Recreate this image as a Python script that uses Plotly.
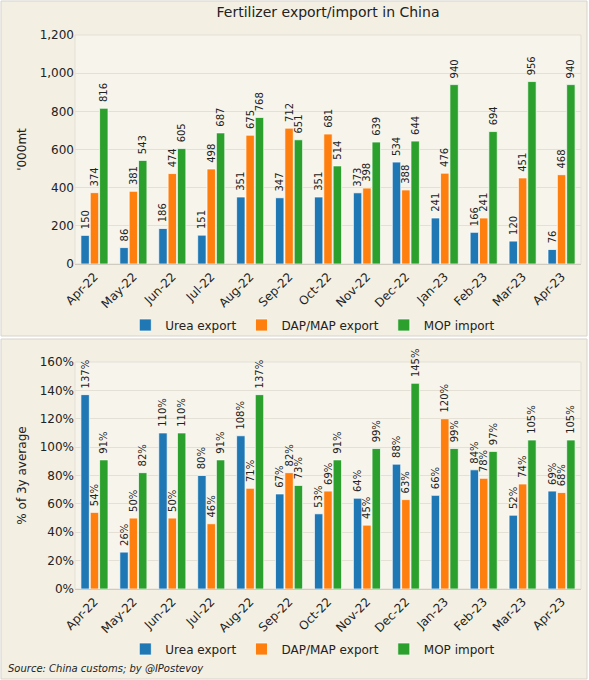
import plotly.graph_objects as go
from plotly.subplots import make_subplots

months = ["Apr-22", "May-22", "Jun-22", "Jul-22", "Aug-22", "Sep-22", "Oct-22",
          "Nov-22", "Dec-22", "Jan-23", "Feb-23", "Mar-23", "Apr-23"]

# '000 mt
urea_kt = [150, 86, 186, 151, 351, 347, 351, 373, 534, 241, 166, 120, 76]
dap_kt = [374, 381, 474, 498, 675, 712, 681, 398, 388, 476, 241, 451, 468]
mop_kt = [816, 543, 605, 687, 768, 651, 514, 639, 644, 940, 694, 956, 940]

# % of 3y average
urea_pct = [137, 26, 110, 80, 108, 67, 53, 64, 88, 66, 84, 52, 69]
dap_pct = [54, 50, 50, 46, 71, 82, 69, 45, 63, 120, 78, 74, 68]
mop_pct = [91, 82, 110, 91, 137, 73, 91, 99, 145, 99, 97, 105, 105]

names = ["Urea export", "DAP/MAP export", "MOP import"]
colors = ["#1f77b4", "#ff7f0e", "#2ca02c"]

panel_bg = "#f3efe3"
plot_bg = "#f7f4eb"
grid = "#e4e0d5"
font = "DejaVu Sans"
nbsp = "\u00a0"

fig = make_subplots(rows=2, cols=1, vertical_spacing=0.177)

for vals, name, c in zip([urea_kt, dap_kt, mop_kt], names, colors):
    fig.add_trace(go.Bar(
        x=months, y=vals, name=name, marker_color=c,
        marker_line=dict(color="rgba(255,255,255,0.7)", width=1),
        text=[f"{nbsp}{v:,}" for v in vals], textposition="outside", textangle=-90,
        textfont=dict(size=10, color="#222"), cliponaxis=False,
        constraintext="none", legend="legend",
    ), row=1, col=1)

for vals, name, c in zip([urea_pct, dap_pct, mop_pct], names, colors):
    fig.add_trace(go.Bar(
        x=months, y=vals, name=name, marker_color=c,
        marker_line=dict(color="rgba(255,255,255,0.7)", width=1),
        text=[f"{nbsp}{v}%" for v in vals], textposition="outside", textangle=-90,
        textfont=dict(size=10, color="#222"), cliponaxis=False,
        constraintext="none", legend="legend2",
    ), row=2, col=1)

# panel frames and plot areas
def px_to_paper_x(p):
    return (p - 75) / 506

def px_to_paper_y(p):
    return (589 - p) / 554

shapes = []
for top, bottom in [(1, 336), (339, 679)]:
    shapes.append(dict(type="rect", xref="paper", yref="paper", layer="below",
                       x0=px_to_paper_x(1), x1=px_to_paper_x(587),
                       y0=px_to_paper_y(bottom), y1=px_to_paper_y(top),
                       fillcolor=panel_bg, line=dict(color="#d6d3cc", width=1)))
for ax in ["x", "x2"]:
    yax = "y" if ax == "x" else "y2"
    shapes.append(dict(type="rect", xref=f"{ax} domain", yref=f"{yax} domain",
                       layer="below", x0=0, x1=1, y0=0, y1=1,
                       fillcolor=plot_bg, line=dict(color="#e2dfd7", width=1)))

fig.update_layout(
    width=589, height=680,
    margin=dict(l=75, r=8, t=35, b=91),
    paper_bgcolor="white", plot_bgcolor="rgba(0,0,0,0)",
    font=dict(family=font, size=12, color="#222"),
    barmode="group", bargap=0.28, bargroupgap=0.1,
    shapes=shapes,
    title=dict(text="Fertilizer export/import in China", x=0.5, xref="paper",
               y=1 - 12 / 680, yref="container", yanchor="middle",
               font=dict(size=14, color="#222")),
    legend=dict(orientation="h", x=0.47, xanchor="center",
                y=px_to_paper_y(325), yanchor="middle",
                bgcolor="rgba(0,0,0,0)", itemwidth=30, font=dict(size=12)),
    legend2=dict(orientation="h", x=0.47, xanchor="center",
                 y=px_to_paper_y(649), yanchor="middle",
                 bgcolor="rgba(0,0,0,0)", itemwidth=30, font=dict(size=12)),
    annotations=[dict(text="<i>Source: China customs; by @IPostevoy</i>",
                      xref="paper", yref="paper", x=px_to_paper_x(6),
                      y=px_to_paper_y(668), xanchor="left", yanchor="middle",
                      showarrow=False, font=dict(size=10, color="#222"))],
)

fig.update_yaxes(domain=[px_to_paper_y(264), 1], range=[0, 1200], dtick=200,
                 tickformat=",", gridcolor=grid, zeroline=False, ticks="",
                 title=dict(text="'000mt", standoff=10, font=dict(size=12)),
                 row=1, col=1)
fig.update_yaxes(domain=[0, px_to_paper_y(362)], range=[0, 160], dtick=20,
                 ticksuffix="%", gridcolor=grid, zeroline=False, ticks="",
                 title=dict(text="% of 3y average", standoff=10, font=dict(size=12)),
                 row=2, col=1)
fig.update_xaxes(tickangle=-45, showgrid=False, showline=True,
                 linecolor="#cfcbc1", ticks="", tickfont=dict(size=12))

fig.write_html("out.html", config={"displayModeBar": False},
               post_script="document.body.style.margin='0px';")
